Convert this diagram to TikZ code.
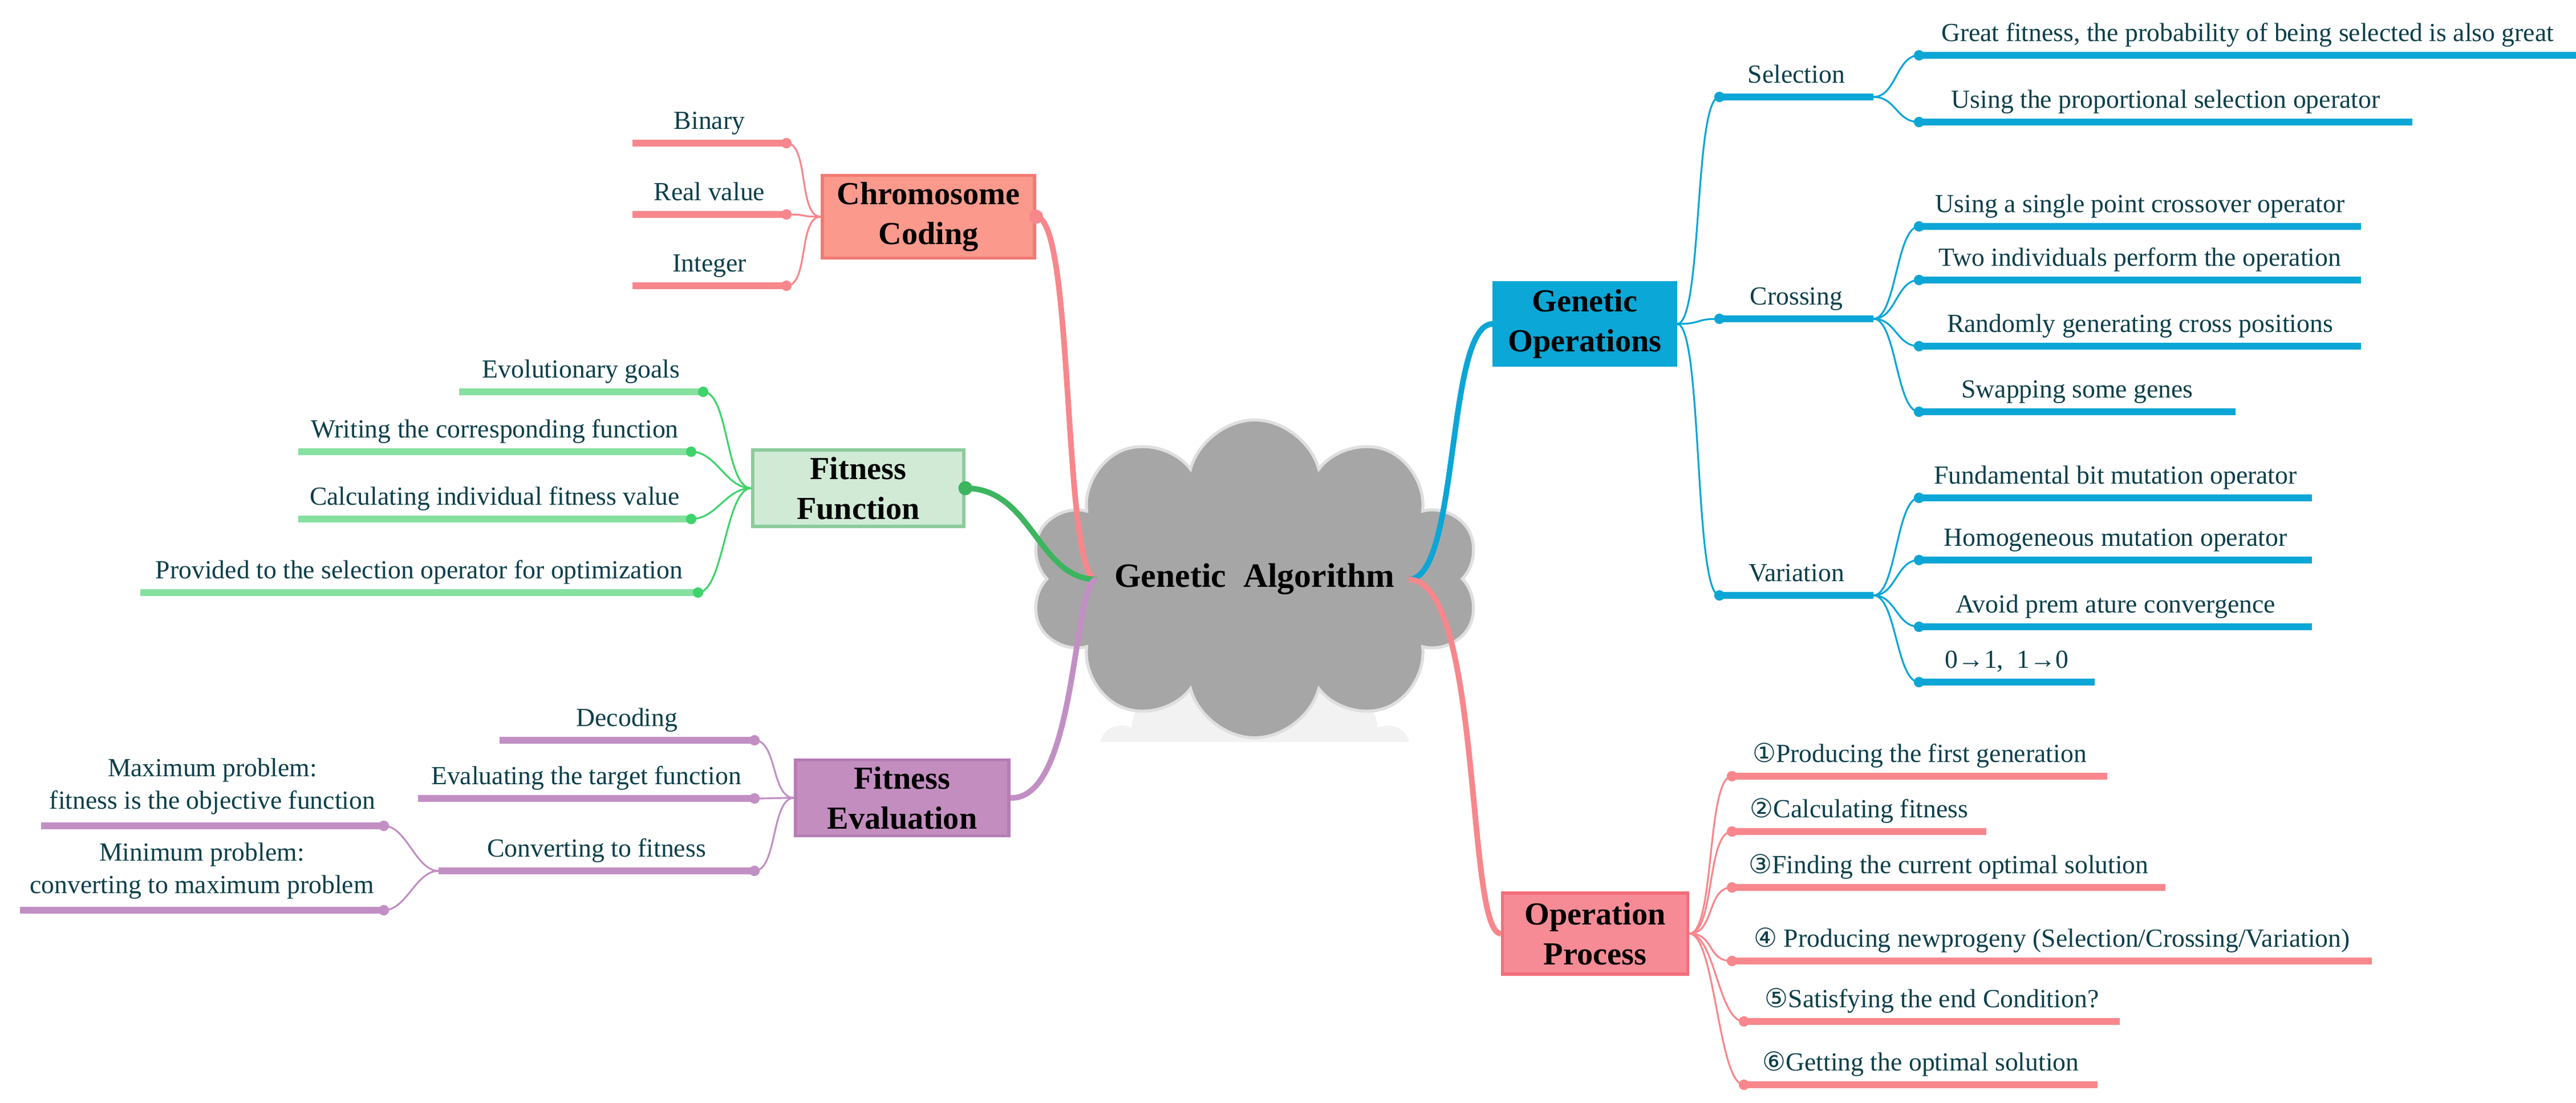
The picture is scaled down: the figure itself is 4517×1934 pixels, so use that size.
\documentclass[tikz,border=0pt]{standalone}
\usepackage{fontspec}
\setmainfont{Liberation Serif}
\newfontfamily\numfont{DejaVu Sans}
\usetikzlibrary{shapes.symbols}

\definecolor{pinkline}{HTML}{F7878C}
\definecolor{chromfill}{HTML}{FA998C}
\definecolor{chromedge}{HTML}{F27A72}
\definecolor{greenleaf}{HTML}{86E0A0}
\definecolor{greentwig}{HTML}{3FD36B}
\definecolor{greentrunk}{HTML}{3DB560}
\definecolor{fffill}{HTML}{D1EAD6}
\definecolor{ffedge}{HTML}{8DCB9B}
\definecolor{purpline}{HTML}{C28FC4}
\definecolor{fefill}{HTML}{C38EBF}
\definecolor{feedge}{HTML}{B57DB4}
\definecolor{blueline}{HTML}{0BA6D6}
\definecolor{gofill}{HTML}{0AA7D7}
\definecolor{opfill}{HTML}{F68B95}
\definecolor{opedge}{HTML}{F26F7A}
\definecolor{textteal}{HTML}{0B3F4A}
\definecolor{cloudgray}{HTML}{A6A6A6}

\tikzset{
    lbl/.style={anchor=base, yshift=7pt, inner sep=0pt, text=textteal, font=\fontsize{13}{15}\selectfont},
    twolbl/.style={anchor=south, yshift=4pt, inner sep=0pt, align=center, text=textteal, font=\fontsize{13}{16}\selectfont},
    topic/.style={draw, line width=1.5pt, align=center, text=black, font=\bfseries\fontsize{16}{20}\selectfont},
    leaf/.style={line width=3.4pt},
    twig/.style={line width=0.9pt},
    trunk/.style={line width=2.8pt},
}

\begin{document}
\begin{tikzpicture}[x=0.01cm, y=-0.01cm]
    \useasboundingbox (0,0) rectangle (4517,1934);

    % centre
    \begin{scope}
        \clip (1800,1175) rectangle (2600,1300);
        \node[cloud, cloud puffs=10, aspect=1.8, fill=gray!10, minimum width=5.5cm, minimum height=3cm] () at (2200,1330) {};
    \end{scope}
    \node[cloud, cloud puffs=10, aspect=1.8, fill=cloudgray, draw=gray!25, line width=1.5pt, minimum width=5.5cm, minimum height=3cm] (ga) at (2200,1015) {\bfseries\fontsize{17}{20}\selectfont Genetic\ \ Algorithm};
    \coordinate (gaL) at (1923,1016);
    \coordinate (gaR) at (2470,1016);

    % topics
    \node[topic, fill=chromfill, draw=chromedge, minimum width=3.72cm, minimum height=1.36cm] (cc) at (1628,380) {Chromosome\\Coding};
    \node[topic, fill=fffill, draw=ffedge, minimum width=3.7cm, minimum height=1.34cm] (ff) at (1505,856) {Fitness\\Function};
    \node[topic, fill=fefill, draw=feedge, minimum width=3.74cm, minimum height=1.28cm] (fe) at (1582,1399) {Fitness\\Evaluation};
    \node[topic, fill=gofill, draw=gofill, minimum width=3.18cm, minimum height=1.35cm] (go) at (2779,568) {Genetic\\Operations};
    \node[topic, fill=opfill, draw=opedge, minimum width=3.25cm, minimum height=1.42cm] (op) at (2797,1637) {Operation\\Process};

    \draw[trunk, pinkline] (cc.east) .. controls (1885,380) and (1862,1016) .. (gaL);
    \draw[trunk, greentrunk] (ff.east) .. controls (1810,856) and (1820,1016) .. (gaL);
    \draw[trunk, purpline] (fe.east) .. controls (1890,1404) and (1880,1016) .. (gaL);
    \draw[trunk, blueline] (gaR) .. controls (2560,1016) and (2535,568) .. (go.west);
    \draw[trunk, pinkline] (gaR) .. controls (2600,1016) and (2570,1637) .. (op.west);
    \fill[pinkline] (cc.east) circle (3.5pt);
    \fill[greentrunk] (ff.east) circle (3.5pt);

    % chromosome coding
    \foreach \y/\t in {251/Binary, 376/Real value, 501/Integer}{
        \coordinate (c) at (1379,\y);
        \draw[twig, pinkline] (cc.west) .. controls +(-40,0) and +(40,0) .. (c);
        \draw[leaf, pinkline] (c) -- (1109,\y) node[lbl, midway]{\t};
        \fill[pinkline] (c) circle (2.6pt);
    }

    % fitness function
    \foreach \x/\y/\s/\t in {1233/687/805/Evolutionary goals, 1212/792/523/Writing the corresponding function, 1212/910/523/Calculating individual fitness value, 1224/1039/246/Provided to the selection operator for optimization}{
        \coordinate (c) at (\x,\y);
        \draw[twig, greentwig] (ff.west) .. controls +(-45,0) and +(45,0) .. (c);
        \draw[leaf, greenleaf] (c) -- (\s,\y) node[lbl, midway]{\t};
        \fill[greentwig] (c) circle (2.6pt);
    }

    % fitness evaluation
    \foreach \y/\s/\t in {1298/876/Decoding, 1400/733/Evaluating the target function, 1527/769/Converting to fitness}{
        \coordinate (c) at (1323,\y);
        \draw[twig, purpline] (fe.west) .. controls +(-40,0) and +(40,0) .. (c);
        \draw[leaf, purpline] (c) -- (\s,\y) node[lbl, midway]{\t};
        \fill[purpline] (c) circle (2.6pt);
    }
    \coordinate (conv) at (769,1527);
    \foreach \y/\s/\t in {1448/72/{Maximum problem:\\fitness is the objective function}, 1596/35/{Minimum problem:\\converting to maximum problem}}{
        \coordinate (c) at (673,\y);
        \draw[twig, purpline] (conv) .. controls +(-40,0) and +(40,0) .. (c);
        \draw[leaf, purpline] (c) -- (\s,\y) node[twolbl, midway]{\t};
        \fill[purpline] (c) circle (2.6pt);
    }

    % genetic operations
    \foreach \y/\n/\t in {170/sel/Selection, 559/cro/Crossing, 1044/var/Variation}{
        \coordinate (c) at (3015,\y);
        \coordinate (\n) at (3285,\y);
        \draw[twig, blueline] (go.east) .. controls +(45,0) and +(-45,0) .. (c);
        \draw[leaf, blueline] (c) -- (\n) node[lbl, midway]{\t};
        \fill[blueline] (c) circle (2.6pt);
    }
    \foreach \p/\y/\e/\t in {sel/97/4517/{Great fitness, the probability of being selected is also great}, sel/214/4230/Using the proportional selection operator,
                             cro/397/4140/Using a single point crossover operator, cro/491/4140/Two individuals perform the operation,
                             cro/607/4140/Randomly generating cross positions, cro/722/3920/Swapping some genes,
                             var/873/4054/Fundamental bit mutation operator, var/982/4054/Homogeneous mutation operator,
                             var/1099/4054/Avoid prem ature convergence, var/1196/3673/{0→1,\ \ 1→0}}{
        \coordinate (c) at (3365,\y);
        \draw[twig, blueline] (\p) .. controls +(40,0) and +(-40,0) .. (c);
        \draw[leaf, blueline] (c) -- (\e,\y) node[lbl, midway]{\t};
        \fill[blueline] (c) circle (2.6pt);
    }

    % operation process
    \foreach \x/\y/\e/\t in {3037/1361/3695/{{\numfont ①}Producing the first generation}, 3037/1458/3483/{{\numfont ②}Calculating fitness},
                             3037/1556/3797/{{\numfont ③}Finding the current optimal solution}, 3037/1685/4159/{{\numfont ④} Producing newprogeny (Selection/Crossing/Variation)},
                             3058/1791/3717/{{\numfont ⑤}Satisfying the end Condition?}, 3058/1902/3678/{{\numfont ⑥}Getting the optimal solution}}{
        \coordinate (c) at (\x,\y);
        \draw[twig, pinkline] (op.east) .. controls +(45,0) and +(-45,0) .. (c);
        \draw[leaf, pinkline] (c) -- (\e,\y) node[lbl, midway]{\t};
        \fill[pinkline] (c) circle (2.6pt);
    }
\end{tikzpicture}
\end{document}
